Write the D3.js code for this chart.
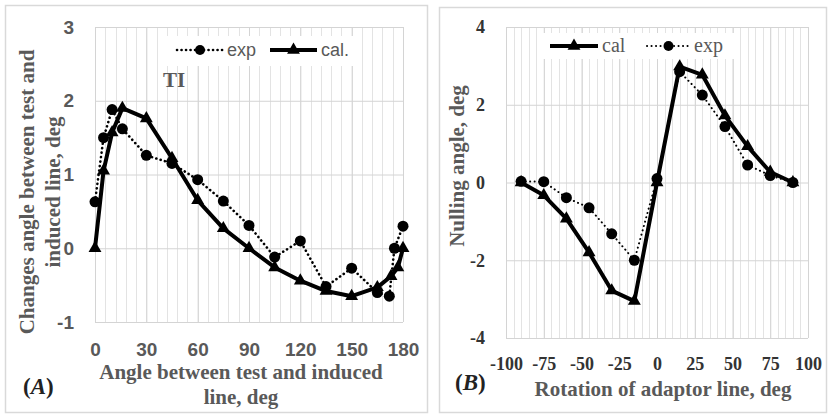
<!DOCTYPE html>
<html>
<head>
<meta charset="utf-8">
<script src="https://cdn.jsdelivr.net/npm/d3@7"></script>
<style>
  body { margin: 0; background: #fff; }
  svg { display: block; }
</style>
</head>
<body>
<svg id="chart" width="829" height="414"></svg>
<script>
// Panel A: change of angle vs angle between test and induced line
const angleExpA = [0, 5, 10, 16, 30, 45, 60, 75, 90, 105, 120, 135, 150, 165, 172, 175, 180];
const expA      = [0.63, 1.50, 1.88, 1.62, 1.26, 1.15, 0.93, 0.64, 0.31, -0.12, 0.10, -0.52, -0.27, -0.60, -0.65, 0.0, 0.30];
const angleCalA = [0, 5, 10, 16, 30, 45, 60, 75, 90, 105, 120, 135, 150, 165, 173, 177, 180];
const calA      = [0, 1.05, 1.57, 1.90, 1.76, 1.22, 0.65, 0.27, 0.0, -0.26, -0.44, -0.58, -0.65, -0.53, -0.38, -0.26, 0.0];
const xTicksA = [0, 30, 60, 90, 120, 150, 180];
const yTicksA = [-1, 0, 1, 2, 3];

// Panel B: nulling angle vs rotation of adaptor line
const rotB  = [-90, -75, -60, -45, -30, -15, 0, 15, 30, 45, 60, 75, 90];
const calB  = [0, -0.33, -0.93, -1.80, -2.78, -3.05, 0, 2.98, 2.77, 1.72, 0.93, 0.27, 0];
const expB  = [0.03, 0.02, -0.39, -0.65, -1.32, -2.0, 0.10, 2.85, 2.25, 1.44, 0.45, 0.18, 0];
const xTicksB = [-100, -75, -50, -25, 0, 25, 50, 75, 100];
const yTicksB = [-4, -2, 0, 2, 4];

const svg = d3.select('#chart');
const serif = '"Liberation Serif", "Times New Roman", serif';
const sans = '"Liberation Sans", Arial, sans-serif';
const gray = '#595959';
const fmt = d => String(d); // plain hyphen for negatives, no decimals

function zip(xs, ys) { return xs.map((v, i) => ({ x: v, y: ys[i] })); }

function panel(o) {
	const g = svg.append('g');

	// outer frame
	g.append('rect')
		.attr('x', o.frame[0]).attr('y', o.frame[1])
		.attr('width', o.frame[2]).attr('height', o.frame[3])
		.attr('fill', '#fff').attr('stroke', '#d9d9d9').attr('stroke-width', 1.5);

	const x = d3.scaleLinear().domain(o.xDomain).range([o.left, o.right]);
	const y = d3.scaleLinear().domain(o.yDomain).range([o.bottom, o.top]);

	// minor vertical gridlines
	g.append('g').selectAll('line')
		.data(o.minorX)
		.join('line')
			.attr('x1', d => Math.round(x(d)) + 0.5).attr('x2', d => Math.round(x(d)) + 0.5)
			.attr('y1', o.top).attr('y2', o.bottom)
			.attr('stroke', '#e3e3e3');

	// major gridlines
	const gridX = g.append('g')
		.attr('transform', `translate(0,${o.bottom})`)
		.call(d3.axisBottom(x).tickValues(o.xTicks).tickSize(-(o.bottom - o.top)).tickFormat(''));
	const gridY = g.append('g')
		.attr('transform', `translate(${o.left},0)`)
		.call(d3.axisLeft(y).tickValues(o.yTicks).tickSize(-(o.right - o.left)).tickFormat(''));
	[gridX, gridY].forEach(a => {
		a.select('.domain').remove();
		a.selectAll('line').attr('stroke', '#d4d4d4');
	});

	// legend background (hides grid like the original)
	g.append('rect')
		.attr('x', o.legendBox[0]).attr('y', o.legendBox[1])
		.attr('width', o.legendBox[2]).attr('height', o.legendBox[3])
		.attr('fill', '#fff');

	// tick labels
	const ax = g.append('g')
		.attr('transform', `translate(0,${o.bottom})`)
		.call(d3.axisBottom(x).tickValues(o.xTicks).tickFormat(fmt).tickSize(0).tickPadding(o.xPad));
	const ay = g.append('g')
		.attr('transform', `translate(${o.left},0)`)
		.call(d3.axisLeft(y).tickValues(o.yTicks).tickFormat(fmt).tickSize(0).tickPadding(o.yPad));
	[ax, ay].forEach(a => {
		a.select('.domain').remove();
		a.selectAll('text')
			.attr('font-family', o.tickFont).attr('font-size', o.tickSize)
			.attr('font-weight', 'bold').attr('fill', o.tickColor);
	});

	const line = d3.line().x(d => x(d.x)).y(d => y(d.y));
	const tri = d3.symbol(d3.symbolTriangle, 72);

	function drawExp(data, w) {
		g.append('path').datum(data)
			.attr('d', line).attr('fill', 'none').attr('stroke', '#000')
			.attr('stroke-width', w).attr('stroke-linecap', 'round')
			.attr('stroke-dasharray', '0.1 4.4');
		g.append('g').selectAll('circle').data(data).join('circle')
			.attr('cx', d => x(d.x)).attr('cy', d => y(d.y)).attr('r', 5.5).attr('fill', '#000');
	}
	function drawCal(data) {
		g.append('path').datum(data)
			.attr('d', line).attr('fill', 'none').attr('stroke', '#000')
			.attr('stroke-width', 4).attr('stroke-linejoin', 'round');
		g.append('g').selectAll('path').data(data).join('path')
			.attr('transform', d => `translate(${x(d.x)},${y(d.y)})`)
			.attr('d', tri).attr('fill', '#000');
	}

	o.order.forEach(s => s === 'exp' ? drawExp(o.exp, o.dotW) : drawCal(o.cal));

	// legend
	o.legend.forEach(it => {
		const lg = g.append('g');
		if (it.kind === 'exp') {
			lg.append('line').attr('x1', it.x1).attr('x2', it.x2).attr('y1', it.y).attr('y2', it.y)
				.attr('stroke', '#000').attr('stroke-width', o.dotW).attr('stroke-linecap', 'round')
				.attr('stroke-dasharray', '0.1 4.4');
			lg.append('circle').attr('cx', (it.x1 + it.x2) / 2).attr('cy', it.y).attr('r', 5).attr('fill', '#000');
		} else {
			lg.append('line').attr('x1', it.x1).attr('x2', it.x2).attr('y1', it.y).attr('y2', it.y)
				.attr('stroke', '#000').attr('stroke-width', 4);
			lg.append('path').attr('transform', `translate(${(it.x1 + it.x2) / 2},${it.y})`)
				.attr('d', tri).attr('fill', '#000');
		}
		lg.append('text').attr('x', it.x2 + 4).attr('y', it.y + 6)
			.attr('font-family', o.legendFont).attr('font-size', o.legendSize)
			.attr('fill', gray).text(it.label);
	});

	return g;
}

// ---- Panel A
const gA = panel({
	frame: [5.5, 5.5, 422, 407],
	left: 95, right: 403, top: 27, bottom: 322,
	xDomain: [0, 180], yDomain: [-1, 3],
	xTicks: xTicksA, yTicks: yTicksA,
	minorX: d3.range(0, 181, 6),
	xPad: 21, yPad: 21,
	tickFont: sans, tickSize: 19, tickColor: gray,
	exp: zip(angleExpA, expA), cal: zip(angleCalA, calA),
	order: ['exp', 'cal'], dotW: 2.6,
	legendBox: [162, 36, 192, 30],
	legendFont: sans, legendSize: 18,
	legend: [
		{ kind: 'exp', x1: 177, x2: 223, y: 50, label: 'exp' },
		{ kind: 'cal', x1: 270, x2: 317, y: 50, label: 'cal.' }
	]
});

gA.append('text').attr('x', 174).attr('y', 87).attr('text-anchor', 'middle')
	.attr('font-family', serif).attr('font-size', 21).attr('font-weight', 'bold')
	.attr('fill', gray).text('TI');

const titleA = gA.append('text').attr('text-anchor', 'middle')
	.attr('font-family', serif).attr('font-size', 21).attr('font-weight', 'bold').attr('fill', gray);
titleA.append('tspan').attr('x', 241).attr('y', 379).text('Angle between test and induced');
titleA.append('tspan').attr('x', 241).attr('y', 404).text('line, deg');

const yTitleA = gA.append('text').attr('text-anchor', 'middle')
	.attr('transform', 'rotate(-90)')
	.attr('font-family', serif).attr('font-size', 21).attr('font-weight', 'bold').attr('fill', gray);
yTitleA.append('tspan').attr('x', -192).attr('y', 34).text('Changes angle between test and');
yTitleA.append('tspan').attr('x', -192).attr('y', 60).text('induced line, deg');

gA.append('text').attr('x', 23).attr('y', 394)
	.attr('font-family', serif).attr('font-size', 23).attr('font-weight', 'bold').attr('fill', '#222')
	.html('(<tspan font-style="italic">A</tspan>)');

// ---- Panel B
const gB = panel({
	frame: [439.5, 7.5, 387, 405],
	left: 506, right: 808, top: 27, bottom: 338,
	xDomain: [-100, 100], yDomain: [-4, 4],
	xTicks: xTicksB, yTicks: yTicksB,
	minorX: d3.range(-100, 101, 5),
	xPad: 19, yPad: 21,
	tickFont: serif, tickSize: 18, tickColor: '#333',
	exp: zip(rotB, expB), cal: zip(rotB, calB),
	order: ['cal', 'exp'], dotW: 2,
	legendBox: [540, 33, 198, 26],
	legendFont: serif, legendSize: 20,
	legend: [
		{ kind: 'cal', x1: 550, x2: 598, y: 46, label: 'cal' },
		{ kind: 'exp', x1: 647, x2: 690, y: 46, label: 'exp' }
	]
});

gB.append('text').attr('x', 663).attr('y', 396).attr('text-anchor', 'middle')
	.attr('font-family', serif).attr('font-size', 21).attr('font-weight', 'bold').attr('fill', gray)
	.text('Rotation of adaptor line, deg');

gB.append('text').attr('text-anchor', 'middle')
	.attr('transform', 'rotate(-90)').attr('x', -166).attr('y', 464)
	.attr('font-family', serif).attr('font-size', 21).attr('font-weight', 'bold').attr('fill', gray)
	.text('Nulling angle, deg');

gB.append('text').attr('x', 455).attr('y', 390)
	.attr('font-family', serif).attr('font-size', 23).attr('font-weight', 'bold').attr('fill', '#222')
	.html('(<tspan font-style="italic">B</tspan>)');
</script>
</body>
</html>
